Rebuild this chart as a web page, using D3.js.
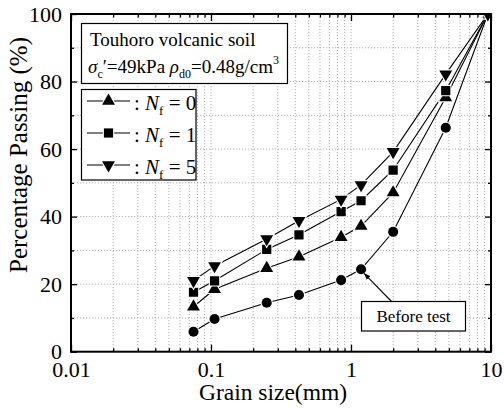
<!DOCTYPE html>
<html><head><meta charset="utf-8">
<script src="https://cdn.jsdelivr.net/npm/d3@7"></script>
<style>
body{margin:0;background:#fff;}
svg{display:block;}
svg text{font-family:"Liberation Serif","Times New Roman",serif !important;}
</style></head>
<body>
<svg id="c" width="504" height="408"></svg>
<script>
const sizes = [0.075, 0.106, 0.25, 0.425, 0.85, 1.18, 2, 4.75, 9.5];
const beforeTest = [5.9, 9.7, 14.5, 16.8, 21.2, 24.4, 35.5, 66.3, 100];
const nf0 = [13.3, 18.5, 24.7, 28.1, 33.9, 37.2, 47.1, 75.3, 100];
const nf1 = [17.6, 21.0, 30.3, 34.6, 41.5, 44.7, 53.8, 77.3, 100];
const nf5 = [21.0, 25.4, 33.4, 38.8, 45.1, 49.4, 59.2, 82.2, 100];
const xMajor = [0.01, 0.1, 1, 10];
const xMajorLabels = ["0.01", "0.1", "1", "10"];
const yMajor = [0, 20, 40, 60, 80, 100];
const yMinor = [10, 30, 50, 70, 90];

const L = 71, R = 491, T = 14, B = 351.7;
const svg = d3.select("#c");
const x = d3.scaleLog().domain([0.01, 10]).range([L, R]);
const y = d3.scaleLinear().domain([0, 100]).range([B, T]);

// minor log values
const xMinor = [];
[0.01, 0.1, 1].forEach(d => { for (let k = 2; k <= 9; k++) xMinor.push(+(d * k).toPrecision(3)); });

// grid
const grid = svg.append("g").attr("stroke", "#b0b0b0").attr("stroke-width", 1).attr("stroke-dasharray", "1.2,1.8");
xMinor.concat([0.1, 1]).forEach(v => grid.append("line").attr("x1", x(v)).attr("x2", x(v)).attr("y1", T).attr("y2", B));
d3.range(10, 100, 10).forEach(v => grid.append("line").attr("x1", L).attr("x2", R).attr("y1", y(v)).attr("y2", y(v)));

// axes
function styleAxis(g) { g.select(".domain").remove(); g.attr("font-family", null); g.selectAll("line").attr("stroke", "#000").attr("stroke-width", 1.3); }
const axB = d3.axisBottom(x).tickValues(xMajor).tickSize(-7).tickPadding(10).tickFormat((d, i) => xMajorLabels[i]);
const gB = svg.append("g").attr("transform", `translate(0,${B})`).call(axB);
styleAxis(gB);
gB.attr("font-size", null);
gB.selectAll("text").attr("font-size", 22).attr("fill", "#000");
svg.append("g").attr("transform", `translate(0,${B})`).call(d3.axisBottom(x).tickValues(xMinor).tickSize(-3.5).tickFormat("")).call(styleAxis);
svg.append("g").attr("transform", `translate(0,${T})`).call(d3.axisTop(x).tickValues(xMajor).tickSize(-7).tickFormat("")).call(styleAxis);
svg.append("g").attr("transform", `translate(0,${T})`).call(d3.axisTop(x).tickValues(xMinor).tickSize(-3.5).tickFormat("")).call(styleAxis);

const axL = d3.axisLeft(y).tickValues(yMajor).tickSize(-6).tickPadding(9).tickFormat(d3.format("d"));
const gL = svg.append("g").attr("transform", `translate(${L},0)`).call(axL);
styleAxis(gL);
gL.attr("font-size", null);
gL.selectAll("text").attr("font-size", 22).attr("fill", "#000");
svg.append("g").attr("transform", `translate(${L},0)`).call(d3.axisLeft(y).tickValues(yMinor).tickSize(-3).tickFormat("")).call(styleAxis);
svg.append("g").attr("transform", `translate(${R},0)`).call(d3.axisRight(y).tickValues(yMajor).tickSize(-6).tickFormat("")).call(styleAxis);
svg.append("g").attr("transform", `translate(${R},0)`).call(d3.axisRight(y).tickValues(yMinor).tickSize(-3).tickFormat("")).call(styleAxis);

// axis titles
svg.append("text").attr("x", 273).attr("y", 400).attr("text-anchor", "middle").attr("font-size", 23.5).text("Grain size(mm)");
svg.append("text").attr("transform", "translate(27,155) rotate(-90)").attr("text-anchor", "middle").attr("font-size", 25).text("Percentage Passing (%)");

// clip
svg.append("clipPath").attr("id", "pc").append("rect").attr("x", L).attr("y", T).attr("width", R - L).attr("height", B - T);
const plot = svg.append("g").attr("clip-path", "url(#pc)");

const series = [
  { vals: beforeTest, sym: d3.symbolCircle, size: 80, rot: 0 },
  { vals: nf0, sym: d3.symbolTriangle, size: 72, rot: 0 },
  { vals: nf1, sym: d3.symbolSquare, size: 85, rot: 0 },
  { vals: nf5, sym: d3.symbolTriangle, size: 72, rot: 180 }
];
const line = d3.line().x((d, i) => x(sizes[i])).y(d => y(d));
series.forEach(s => {
  plot.append("path").attr("d", line(s.vals)).attr("fill", "none").attr("stroke", "#000").attr("stroke-width", 1.1);
});
series.forEach(s => {
  plot.selectAll(null).data(s.vals).enter().append("path")
    .attr("d", d3.symbol(s.sym, s.size))
    .attr("transform", (d, i) => `translate(${x(sizes[i])},${y(d)}) rotate(${s.rot})`)
    .attr("fill", "#000").attr("stroke", "#fff").attr("stroke-width", 2.2).attr("paint-order", "stroke");
});
// frame on top
svg.append("rect").attr("x", L).attr("y", T).attr("width", R - L).attr("height", B - T)
  .attr("fill", "none").attr("stroke", "#000").attr("stroke-width", 2);

// title box
svg.append("rect").attr("x", 81.5).attr("y", 23.5).attr("width", 206).attr("height", 60)
  .attr("fill", "#fff").attr("stroke", "#000").attr("stroke-width", 1.2);
svg.append("text").attr("x", 90).attr("y", 46).attr("font-size", 19).text("Touhoro volcanic soil");
const t2 = svg.append("text").attr("x", 88).attr("y", 73).attr("font-size", 19);
t2.append("tspan").attr("font-style", "italic").text("σ");
t2.append("tspan").attr("font-size", 12).attr("dy", 5).text("c");
t2.append("tspan").attr("dy", -5).text("′=49kPa ");
t2.append("tspan").attr("font-style", "italic").text("ρ");
t2.append("tspan").attr("font-size", 12).attr("dy", 5).text("d0");
t2.append("tspan").attr("dy", -5).text("=0.48g/cm");
t2.append("tspan").attr("font-size", 12).attr("dy", -9).text("3");

// legend
svg.append("rect").attr("x", 81.5).attr("y", 89.5).attr("width", 114.5).attr("height", 90.5)
  .attr("fill", "#fff").attr("stroke", "#000").attr("stroke-width", 1.2);
const legItems = [
  { sym: d3.symbolTriangle, size: 72, rot: 0, n: "0" },
  { sym: d3.symbolSquare, size: 85, rot: 0, n: "1" },
  { sym: d3.symbolTriangle, size: 72, rot: 180, n: "5" }
];
legItems.forEach((it, i) => {
  const cy = 101 + i * 32;
  svg.append("line").attr("x1", 87).attr("x2", 130).attr("y1", cy).attr("y2", cy).attr("stroke", "#000").attr("stroke-width", 1.1);
  svg.append("path").attr("d", d3.symbol(it.sym, it.size)).attr("transform", `translate(108.5,${cy}) rotate(${it.rot})`)
    .attr("fill", "#000").attr("stroke", "#fff").attr("stroke-width", 2.2).attr("paint-order", "stroke");
  const tt = svg.append("text").attr("x", 134).attr("y", cy + 9).attr("font-size", 21);
  tt.append("tspan").text(": ");
  tt.append("tspan").attr("font-style", "italic").text("N");
  tt.append("tspan").attr("font-size", 13).attr("dy", 5).text("f");
  tt.append("tspan").attr("dy", -5).text(" = " + it.n);
});

// annotation
svg.append("defs").append("marker").attr("id", "ah").attr("viewBox", "0 0 10 10").attr("refX", 10).attr("refY", 5)
  .attr("markerWidth", 6).attr("markerHeight", 6).attr("orient", "auto")
  .append("path").attr("d", "M0,1 L10,5 L0,9 z").attr("fill", "#000");
svg.append("line").attr("x1", 392).attr("y1", 302).attr("x2", x(1.18) + 3).attr("y2", y(24.4) + 4)
  .attr("stroke", "#000").attr("stroke-width", 1.1).attr("marker-end", "url(#ah)");
svg.append("rect").attr("x", 361.5).attr("y", 301.5).attr("width", 104).attr("height", 29.5)
  .attr("fill", "#fff").attr("stroke", "#000").attr("stroke-width", 1.2);
svg.append("text").attr("x", 413.5).attr("y", 322).attr("text-anchor", "middle").attr("font-size", 17).text("Before test");
</script>
</body></html>
